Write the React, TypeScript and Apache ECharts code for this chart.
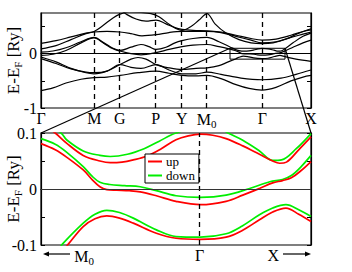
import React, { useEffect, useRef } from 'react';
import * as echarts from 'echarts';

// ---- top panel: high-symmetry points (k positions along the path) ----
const kTicks = [0, 53.3, 78.7, 114.7, 140.7, 165.7, 221.3, 270];
const kLabels = ['Γ', 'M', 'G', 'P', 'Y', 'M{sub|0}', 'Γ', 'X'];
const topYTicks = [-1, -0.5, 0, 0.5];
const topYLabels = [-1, 0];

// ---- top panel bands [k, E] ----
const band1 = [[0,-0.68],[12,-0.63],[25,-0.54],[40,-0.47],[53,-0.44],[66,-0.43],[79,-0.4],[97,-0.35],[115,-0.32],[128,-0.36],[141,-0.4],[155,-0.41],[166,-0.4],[180,-0.46],[195,-0.57],[208,-0.64],[221,-0.67],[235,-0.62],[250,-0.5],[262,-0.43],[270,-0.4]];
const band2 = [[0,-0.09],[15,-0.18],[30,-0.28],[45,-0.34],[53,-0.35],[66,-0.32],[79,-0.2],[90,-0.25],[100,-0.27],[115,-0.2],[128,-0.3],[141,-0.37],[155,-0.37],[166,-0.34],[180,-0.38],[200,-0.45],[221,-0.48],[240,-0.45],[255,-0.38],[270,-0.3]];
const band3 = [[0,-0.06],[15,-0.15],[30,-0.27],[45,-0.35],[53,-0.37],[66,-0.32],[79,-0.2],[90,-0.1],[97,-0.07],[105,-0.1],[115,-0.2],[128,-0.26],[141,-0.29],[155,-0.27],[166,-0.26],[178,-0.22],[186,-0.16],[192,-0.115],[195,-0.092],[198,-0.066],[202.4,-0.045],[208,-0.058],[212.5,-0.075],[216.5,-0.085],[221,-0.088],[227,-0.083],[233.5,-0.052],[238.9,-0.031],[244,-0.055],[255,-0.1],[270,-0.14]];
const band4 = [[0,-0.03],[12,-0.01],[25,0.06],[40,0.2],[53,0.29],[63,0.19],[72,0.09],[79,0.05],[90,0.0],[100,-0.02],[115,0.02],[128,0.08],[141,0.13],[152,0.16],[166,0.17],[178,0.13],[189,0.085],[194,0.06],[198,0.03],[201,0.0],[205,-0.003],[209,-0.005],[213,-0.01],[216.5,-0.02],[221,-0.025],[227,-0.02],[233,0.0],[236,0.012],[238.5,0.015],[244,0.052],[252,0.12],[262,0.2],[270,0.25]];
const band5 = [[0,0.03],[12,0.05],[25,0.11],[40,0.22],[53,0.3],[63,0.2],[72,0.1],[79,0.06],[90,0.12],[100,0.17],[108,0.13],[115,0.08],[125,0.12],[134,0.2],[141,0.24],[152,0.28],[166,0.3],[178,0.22],[189,0.125],[194,0.08],[198,0.058],[203,0.048],[208,0.053],[213,0.07],[217,0.088],[221,0.098],[227,0.09],[233,0.065],[237,0.047],[240,0.05],[244,0.093],[252,0.2],[262,0.32],[270,0.38]];
const band6 = [[0,0.09],[15,0.15],[30,0.26],[45,0.37],[53,0.4],[66,0.41],[79,0.4],[90,0.37],[101,0.33],[115,0.35],[128,0.39],[141,0.41],[166,0.41],[180,0.39],[195,0.32],[210,0.25],[221,0.2],[235,0.22],[250,0.3],[262,0.36],[270,0.4]];
const band7 = [[0,0.19],[15,0.24],[30,0.31],[45,0.38],[53,0.41],[62,0.52],[72,0.66],[79,0.73],[88,0.77],[100,0.76],[110,0.74],[118,0.68],[130,0.52],[141,0.43],[150,0.5],[158,0.62],[166,0.74],[174,0.55],[185,0.38],[198,0.26],[210,0.2],[221,0.185],[232,0.2],[245,0.27],[258,0.38],[270,0.46]];
const band8 = [[80,0.8],[86,0.72],[95,0.64],[105,0.6],[115,0.62],[125,0.55],[134,0.48],[141,0.45],[152,0.43],[166,0.42],[180,0.4],[195,0.34],[210,0.28],[221,0.25],[235,0.27],[250,0.34],[262,0.41],[270,0.44]];
const topBands = [band1, band2, band3, band4, band5, band6, band7, band8];

// ---- zoom window (top panel coordinates) ----
const zoomK = [189, 244];
const zoomE = [-0.1, 0.1];

// ---- bottom panel ----
const gammaK = 221.3;
const bottomXTicks = [197.8, 221.3, 236.3];
const bottomXLabels = ['M{sub|0}', 'Γ', 'X'];
const botYLabels = [-0.1, 0, 0.1];
const botYTicks = [-0.1, -0.05, 0, 0.05, 0.1];

const upTop = [[188,0.128],[189.5,0.115],[191.9,0.1],[194.2,0.082],[197.6,0.06],[201,0.05],[203.1,0.047],[205.5,0.048],[207.8,0.052],[210.6,0.059],[213.5,0.072],[216.5,0.088],[219,0.095],[221.5,0.098],[224,0.096],[226.7,0.09],[230.1,0.077],[233.5,0.062],[236.2,0.05],[237.6,0.046],[239,0.048],[241.5,0.07],[244,0.093]];
const upMid = [[189,0.081],[191.9,0.07],[194.2,0.057],[197.6,0.034],[199.5,0.016],[201,0.004],[202.4,-0.001],[204.4,-0.002],[207,-0.003],[209.2,-0.005],[212.5,-0.012],[216.5,-0.022],[221.5,-0.028],[226.7,-0.022],[230.1,-0.011],[233.5,0.001],[236.2,0.011],[238.2,0.015],[240,0.02],[242,0.033],[244,0.049]];
const upLow = [[193.5,-0.11],[194.6,-0.098],[197.6,-0.067],[200,-0.053],[202.4,-0.048],[205,-0.052],[207.8,-0.061],[212.5,-0.079],[216.5,-0.088],[221.5,-0.09],[226.7,-0.086],[230,-0.074],[233.5,-0.055],[236.2,-0.041],[238.9,-0.034],[241.5,-0.045],[244,-0.058]];
const downTop = [[190,0.12],[193.2,0.099],[194.2,0.088],[197.6,0.068],[201,0.06],[203.1,0.058],[206.6,0.062],[210,0.072],[213,0.085],[216.5,0.1],[221.5,0.11],[226,0.105],[227.3,0.099],[230.1,0.087],[233.5,0.068],[236.2,0.051],[238,0.052],[241,0.072],[244,0.099]];
const downMid = [[189,0.09],[191.9,0.08],[194.2,0.066],[197.6,0.04],[199.5,0.022],[201,0.012],[203,0.008],[206,0.006],[209.2,0.004],[212.5,-0.003],[216.5,-0.012],[221.5,-0.015],[226.7,-0.011],[231.5,0.001],[235.6,0.013],[238.2,0.017],[240,0.024],[242,0.04],[244,0.06]];
const downLow = [[192.4,-0.11],[193.4,-0.098],[197.6,-0.061],[200,-0.045],[202.4,-0.038],[205,-0.042],[207.8,-0.052],[212.5,-0.073],[216.5,-0.085],[221.5,-0.086],[226.7,-0.08],[230,-0.066],[233.5,-0.046],[236.2,-0.034],[238.9,-0.028],[241.5,-0.037],[244,-0.049]];
const upBands = [upTop, upMid, upLow];
const downBands = [downTop, downMid, downLow];

const FONT = "'Liberation Serif', 'DejaVu Serif', serif";
const RED = '#ff0000';
const GREEN = '#00ee00';

function nearestLabel(v: number, ticks: number[], labels: string[]) {
  let best = 0;
  for (let i = 1; i < ticks.length; i++) {
    if (Math.abs(ticks[i] - v) < Math.abs(ticks[best] - v)) best = i;
  }
  return labels[best];
}

const richSub = {
  sub: { fontSize: 11, fontFamily: FONT, color: '#000', verticalAlign: 'bottom', padding: [8, 0, 0, 0] },
};

export default function App() {
  const ref = useRef<HTMLDivElement>(null);
  useEffect(() => {
    if (!ref.current) return;
    const chart = echarts.init(ref.current, null, { renderer: 'svg' });

    const topGrid = { left: 41, top: 13, width: 270, height: 95 };
    const botGrid = { left: 41, top: 133, width: 270, height: 112 };

    const yName = 'E-E{sub|F} [Ry]';
    const yNameStyle = {
      fontFamily: FONT, fontSize: 17, color: '#000',
      rich: { sub: { fontSize: 11, fontFamily: FONT, color: '#000', padding: [8, 0, 0, 0] } },
    };
    const axisLine = { show: true, lineStyle: { color: '#000', width: 1.2 } };

    const series: any[] = [];
    topBands.forEach((b, i) => {
      series.push({
        type: 'line', xAxisIndex: 0, yAxisIndex: 0, data: b, smooth: 0.35,
        symbol: 'none', silent: true, lineStyle: { color: '#000', width: 1.2 },
        ...(i === 0 ? {
          markLine: {
            silent: true, symbol: ['none', 'none'], label: { show: false },
            data: [
              ...kTicks.slice(1, 7).map((k) => ({ xAxis: k, lineStyle: { type: [5, 4], color: '#000', width: 1.3 } })),
              { yAxis: 0, lineStyle: { type: 'solid', color: '#000', width: 1 } },
            ],
          },
          markArea: {
            silent: true,
            itemStyle: { color: 'rgba(0,0,0,0)', borderColor: '#000', borderWidth: 1 },
            data: [[{ xAxis: zoomK[0], yAxis: zoomE[0] }, { xAxis: zoomK[1], yAxis: zoomE[1] }]],
          },
        } : {}),
      });
    });
    upBands.forEach((b, i) => {
      series.push({
        name: 'up', type: 'line', xAxisIndex: 1, yAxisIndex: 2, data: b, smooth: 0.35,
        symbol: 'none', silent: true, color: RED, lineStyle: { color: RED, width: 1.7 }, z: 3,
        ...(i === 0 ? {
          markLine: {
            silent: true, symbol: ['none', 'none'], label: { show: false },
            data: [
              { xAxis: gammaK, lineStyle: { type: [5, 4], color: '#000', width: 1.3 } },
              { yAxis: 0, lineStyle: { type: 'solid', color: '#333', width: 1 } },
            ],
          },
        } : {}),
      });
    });
    downBands.forEach((b) => {
      series.push({
        name: 'down', type: 'line', xAxisIndex: 1, yAxisIndex: 2, data: b, smooth: 0.35,
        symbol: 'none', silent: true, color: GREEN, lineStyle: { color: GREEN, width: 1.7 }, z: 2,
      });
    });

    const yNameOpts = {
      name: yName, nameLocation: 'middle', nameRotate: 90, nameGap: 18,
      nameMoveOverlap: false, nameTextStyle: yNameStyle,
    };

    chart.setOption({
      animation: false,
      grid: [
        { ...topGrid, containLabel: false, outerBoundsMode: 'none', show: true, borderColor: '#000', borderWidth: 1.2, backgroundColor: 'transparent' },
        { ...botGrid, containLabel: false, outerBoundsMode: 'none', show: true, borderColor: '#000', borderWidth: 1.2, backgroundColor: 'transparent' },
      ],
      legend: {
        data: ['up', 'down'], left: 145, top: 154, orient: 'vertical',
        backgroundColor: '#fff', borderColor: '#000', borderWidth: 1, borderRadius: 0,
        padding: [1, 4, 1, 3], itemGap: 1, itemWidth: 14, itemHeight: 2, icon: 'rect',
        textStyle: { fontFamily: FONT, fontSize: 13, color: '#000', padding: [0, 0, 0, -1] },
      },
      xAxis: [
        {
          type: 'value', gridIndex: 0, min: 0, max: 270, axisLine,
          axisTick: { show: false }, splitLine: { show: false },
          axisLabel: {
            customValues: kTicks, margin: 2, fontFamily: FONT, fontSize: 16, color: '#000',
            formatter: (v: number) => nearestLabel(v, kTicks, kLabels), rich: richSub,
          },
        },
        {
          type: 'value', gridIndex: 1, min: zoomK[0], max: zoomK[1], axisLine,
          axisTick: { show: false }, splitLine: { show: false },
          axisLabel: {
            customValues: bottomXTicks, margin: 2, fontFamily: FONT, fontSize: 16, color: '#000',
            formatter: (v: number) => nearestLabel(v, bottomXTicks, bottomXLabels), rich: richSub,
          },
        },
      ],
      yAxis: [
        {
          type: 'value', gridIndex: 0, min: -1, max: 0.75, axisLine, splitLine: { show: false },
          axisTick: { customValues: topYTicks, inside: true, length: 4, lineStyle: { color: '#000' } },
          axisLabel: { customValues: topYLabels, margin: 4, fontFamily: FONT, fontSize: 16, color: '#000', formatter: (v: number) => String(v) },
          ...yNameOpts,
        },
        {
          type: 'value', gridIndex: 0, position: 'right', min: -1, max: 0.75, axisLine, splitLine: { show: false },
          axisTick: { customValues: topYTicks, inside: true, length: 4, lineStyle: { color: '#000' } },
          axisLabel: { show: false },
        },
        {
          type: 'value', gridIndex: 1, min: -0.1, max: 0.1, axisLine, splitLine: { show: false },
          axisTick: { customValues: botYTicks, inside: true, length: 4, lineStyle: { color: '#000' } },
          axisLabel: { customValues: botYLabels, margin: 4, fontFamily: FONT, fontSize: 16, color: '#000', formatter: (v: number) => String(v) },
          ...yNameOpts,
        },
        {
          type: 'value', gridIndex: 1, position: 'right', min: -0.1, max: 0.1, axisLine, splitLine: { show: false },
          axisTick: { customValues: botYTicks, inside: true, length: 4, lineStyle: { color: '#000' } },
          axisLabel: { show: false },
        },
      ],
      series,
    });

    // connectors from zoom box to bottom panel, and the direction arrows
    const a = chart.convertToPixel({ gridIndex: 0 } as any, [zoomK[0], zoomE[1]]) as number[];
    const b = chart.convertToPixel({ gridIndex: 0 } as any, [zoomK[1], zoomE[1]]) as number[];
    const c = chart.convertToPixel({ gridIndex: 1 } as any, [zoomK[0], zoomE[1]]) as number[];
    const d = chart.convertToPixel({ gridIndex: 1 } as any, [zoomK[1], zoomE[1]]) as number[];
    const yArrow = 254;
    const L0 = botGrid.left + 2, L1 = botGrid.left + 29;
    const R1 = botGrid.left + botGrid.width, R0 = R1 - 28;
    const stroke = { stroke: '#000', lineWidth: 1.2 };
    chart.setOption({
      graphic: [
        { type: 'line', shape: { x1: a[0], y1: a[1], x2: c[0], y2: c[1] }, style: stroke, z: 100, silent: true },
        { type: 'line', shape: { x1: b[0], y1: b[1], x2: d[0], y2: d[1] }, style: stroke, z: 100, silent: true },
        { type: 'line', shape: { x1: L0 + 4, y1: yArrow, x2: L1, y2: yArrow }, style: stroke, silent: true },
        { type: 'polygon', shape: { points: [[L0, yArrow], [L0 + 6, yArrow - 2.5], [L0 + 6, yArrow + 2.5]] }, style: { fill: '#000' }, silent: true },
        { type: 'line', shape: { x1: R0, y1: yArrow, x2: R1 - 4, y2: yArrow }, style: stroke, silent: true },
        { type: 'polygon', shape: { points: [[R1, yArrow], [R1 - 6, yArrow - 2.5], [R1 - 6, yArrow + 2.5]] }, style: { fill: '#000' }, silent: true },
      ],
    });

    return () => chart.dispose();
  }, []);
  return <div ref={ref} style={{ position: 'absolute', left: 0, top: 0, width: 352, height: 272, background: '#fff' }} />;
}
